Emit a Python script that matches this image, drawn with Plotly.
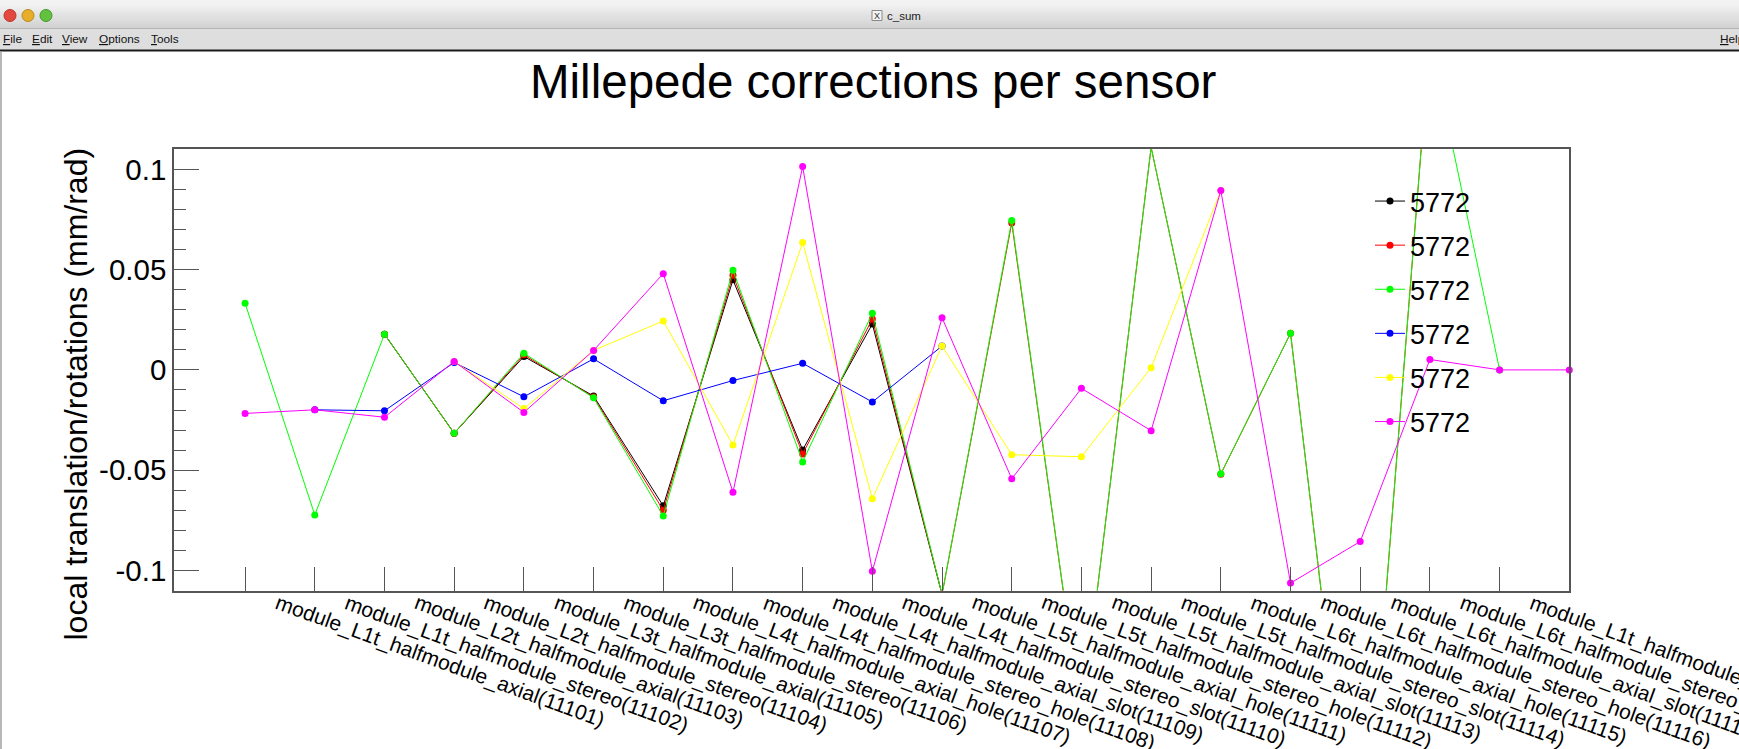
import plotly.graph_objects as go

W, H = 1739, 749

# ---------------- data ----------------
x_index = list(range(20))
x_labels = [
    "module_L1t_halfmodule_axial(11101)",
    "module_L1t_halfmodule_stereo(11102)",
    "module_L2t_halfmodule_axial(11103)",
    "module_L2t_halfmodule_stereo(11104)",
    "module_L3t_halfmodule_axial(11105)",
    "module_L3t_halfmodule_stereo(11106)",
    "module_L4t_halfmodule_axial_hole(11107)",
    "module_L4t_halfmodule_stereo_hole(11108)",
    "module_L4t_halfmodule_axial_slot(11109)",
    "module_L4t_halfmodule_stereo_slot(11110)",
    "module_L5t_halfmodule_axial_hole(11111)",
    "module_L5t_halfmodule_stereo_hole(11112)",
    "module_L5t_halfmodule_axial_slot(11113)",
    "module_L5t_halfmodule_stereo_slot(11114)",
    "module_L6t_halfmodule_axial_hole(11115)",
    "module_L6t_halfmodule_stereo_hole(11116)",
    "module_L6t_halfmodule_axial_slot(11117)",
    "module_L6t_halfmodule_stereo_slot(11118)",
    "module_L1t_halfmodule_stereo(11102)",
]
y_tick_vals = [-0.1, -0.05, 0, 0.05, 0.1]
y_tick_text = ["-0.1", "-0.05", "0", "0.05", "0.1"]

series_names = ["5772", "5772", "5772", "5772", "5772", "5772"]

black = [None, None, 0.0178, -0.0316, 0.0067, -0.0130, -0.0678, 0.0449, -0.0399, 0.0229,
         -0.1120, None, None, None, None, None, None, None, None, None]
red = [None, None, 0.0178, -0.0316, 0.0075, -0.0135, -0.0700, 0.0472, -0.0419, 0.0254,
       -0.1120, 0.0733, -0.1750, 0.1110, -0.0520, 0.0183, -0.2740, 0.1650, None, None]
green = [0.0332, -0.0723, 0.0178, -0.0316, 0.0083, -0.0139, -0.0728, 0.0497, -0.0459, 0.0283,
         -0.1120, 0.0745, -0.1750, 0.1110, -0.0518, 0.0183, -0.2740, 0.1650, 0.0000, None]
blue = [None, -0.0199, -0.0204, 0.0037, -0.0134, 0.0055, -0.0154, -0.0053, 0.0033, -0.0160,
        0.0119, None, None, None, None, None, None, None, None, None]
yellow = [None, None, None, 0.0042, -0.0193, 0.0097, 0.0244, -0.0375, 0.0635, -0.0642,
          0.0119, -0.0423, -0.0433, 0.0011, 0.0894, None, None, None, None, None]
magenta = [-0.0217, -0.0199, -0.0236, 0.0042, -0.0212, 0.0097, 0.0480, -0.0610, 0.1014, -0.1004,
           0.0260, -0.0543, -0.0092, -0.0303, 0.0894, -0.1063, -0.0856, 0.0052, 0.0000, 0.0000]

series_values = [black, red, green, blue, yellow, magenta]
series_colors = ["#000000", "#ff0000", "#00ff00", "#0000ff", "#ffff00", "#ff00ff"]

Y_RANGE = [-0.11, 0.11]

# ---------------- helpers (pixel -> paper) ----------------
def px(x):
    return x / W

def py(y):
    return 1 - y / H

FONT = "Liberation Sans, Arial, Helvetica, sans-serif"
AXC = "#555555"

fig = go.Figure()
for k, (name, vals, col) in enumerate(zip(series_names, series_values, series_colors)):
    xs = [i for i, v in zip(x_index, vals) if v is not None]
    ys = [v for v in vals if v is not None]
    inside = all(Y_RANGE[0] <= v <= Y_RANGE[1] for v in ys)
    fig.add_trace(go.Scatter(
        x=xs, y=ys, mode="lines+markers", name=name,
        legendgroup="g%d" % k,
        line=dict(color=col, width=1),
        marker=dict(color=col, size=7, line=dict(width=0)),
        cliponaxis=not inside,
    ))

shapes = []
annotations = []

# ---- window chrome ----
shapes.append(dict(type="rect", xref="paper", yref="paper", x0=0, x1=1, y0=py(0), y1=py(7),
                   fillcolor="#f2f2f2", line=dict(width=0), layer="above"))
n = 22
for i in range(n):
    c = int(233 - (233 - 195) * i / (n - 1))
    shapes.append(dict(type="rect", xref="paper", yref="paper", x0=0, x1=1,
                       y0=py(6.5 + i), y1=py(7.5 + i),
                       fillcolor="rgb(%d,%d,%d)" % (c, c, c), line=dict(width=0), layer="above"))
shapes.append(dict(type="rect", xref="paper", yref="paper", x0=0, x1=1, y0=py(28.5), y1=py(50),
                   fillcolor="#dedede", line=dict(width=0), layer="above"))
shapes.append(dict(type="line", xref="paper", yref="paper", x0=0, x1=1, y0=py(28.5), y1=py(28.5),
                   line=dict(color="#b4b4b4", width=1), layer="above"))
shapes.append(dict(type="line", xref="paper", yref="paper", x0=0, x1=1, y0=py(50.5), y1=py(50.5),
                   line=dict(color="#1a1a1a", width=2), layer="above"))
shapes.append(dict(type="line", xref="paper", yref="paper", x0=px(1), x1=px(1), y0=py(51), y1=py(749),
                   line=dict(color="#a0a0a0", width=1.5), layer="above"))

for cx, fill, edge in [(10, "#e4493f", "#b8352c"), (28, "#e6ae2a", "#b98a1c"), (46, "#62c23f", "#46962b")]:
    shapes.append(dict(type="circle", xref="paper", yref="paper",
                       x0=px(cx - 6), x1=px(cx + 6), y0=py(15.5 + 6), y1=py(15.5 - 6),
                       fillcolor=fill, line=dict(color=edge, width=1), layer="above"))

# title bar icon + name
shapes.append(dict(type="rect", xref="paper", yref="paper", x0=px(872), x1=px(882), y0=py(20.5), y1=py(10.5),
                   fillcolor="#f4f4f4", line=dict(color="#888888", width=1), layer="above"))
annotations.append(dict(text="X", x=px(877), y=py(15.5), xref="paper", yref="paper", showarrow=False,
                        xanchor="center", yanchor="middle", font=dict(size=9, color="#333", family=FONT)))
annotations.append(dict(text="c_sum", x=px(885), y=py(15.5), xref="paper", yref="paper", showarrow=False,
                        xanchor="left", yanchor="middle", font=dict(size=11.5, color="#222", family=FONT)))

for txt, x0 in [("<u>F</u>ile", 2), ("<u>E</u>dit", 31), ("<u>V</u>iew", 61), ("<u>O</u>ptions", 98),
                ("<u>T</u>ools", 150), ("<u>H</u>elp", 1719)]:
    annotations.append(dict(text=txt, x=px(x0), y=py(39.5), xref="paper", yref="paper", showarrow=False,
                            xanchor="left", yanchor="middle", borderpad=0,
                            font=dict(size=11.8, color="#111", family=FONT)))

# ---- chart title ----
annotations.append(dict(text="Millepede corrections per sensor", x=px(874), y=py(82),
                        xref="paper", yref="paper", showarrow=False, xanchor="center", yanchor="middle",
                        font=dict(size=47.5, color="black", family=FONT)))

# ---- y-axis title ----
annotations.append(dict(text="local translation/rotations (mm/rad)", x=px(75), y=py(147),
                        xref="paper", yref="paper", showarrow=False, textangle=-90,
                        xanchor="center", yanchor="top", borderpad=0,
                        font=dict(size=32, color="black", family=FONT)))

# ---- rotated x labels (bin labels) ----
label_offset = 0.37
for k, lab in enumerate(x_labels):
    annotations.append(dict(text=lab, x=k + label_offset, y=py(589), xref="x", yref="paper",
                            showarrow=False, textangle=20, xanchor="left", yanchor="top", borderpad=0,
                            font=dict(size=21, color="black", family=FONT)))

fig.update_layout(
    width=W, height=H, margin=dict(l=0, r=0, t=0, b=0, pad=0),
    paper_bgcolor="white", plot_bgcolor="white",
    font=dict(family=FONT, color="black"),
    showlegend=True,
    legend=dict(x=px(1370), y=py(177), xanchor="left", yanchor="top",
                bgcolor="rgba(0,0,0,0)", borderwidth=0,
                font=dict(size=27, color="black", family=FONT),
                traceorder="grouped", tracegroupgap=6),
    xaxis=dict(domain=[px(174), px(1569.3)], range=[-1.02, 19.0],
               tickvals=x_index, ticks="inside", ticklen=24, tickwidth=1, tickcolor=AXC,
               showticklabels=False, showline=True, linecolor=AXC, linewidth=1.5, mirror=True,
               showgrid=False, zeroline=False, anchor="y"),
    yaxis=dict(domain=[py(590.5), py(149.3)], range=Y_RANGE,
               tickmode="array", tickvals=y_tick_vals, ticktext=y_tick_text,
               ticks="inside", ticklen=25, tickwidth=1, tickcolor=AXC,
               minor=dict(dtick=0.01, tick0=0, ticks="inside", ticklen=12, tickwidth=1, tickcolor=AXC),
               tickfont=dict(size=29.5, color="black", family=FONT), ticklabelstandoff=0,
               showline=True, linecolor=AXC, linewidth=1.5, mirror=True,
               showgrid=False, zeroline=False, anchor="x"),
    shapes=shapes,
    annotations=annotations,
)

fig.write_html("out.html", config={"displayModeBar": False},
               post_script="document.body.style.margin='0';document.body.style.overflow='hidden';")
